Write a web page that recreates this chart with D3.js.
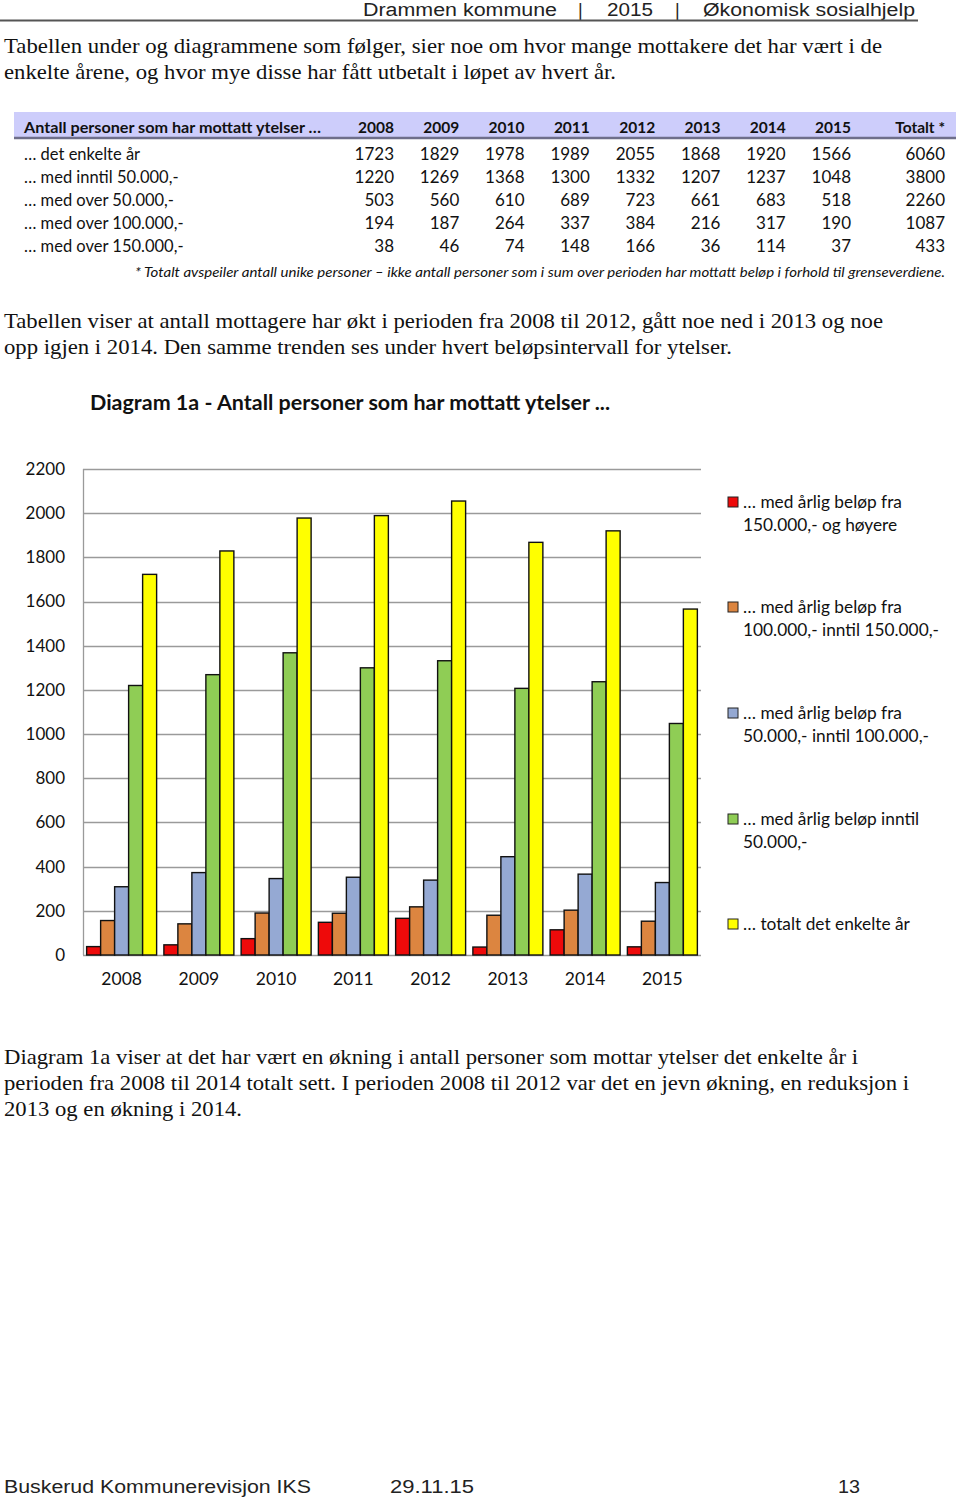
<!DOCTYPE html>
<html><head><meta charset="utf-8">
<script src="https://cdn.jsdelivr.net/npm/d3@7/dist/d3.min.js"></script>
<style>body{margin:0;background:#fff}svg{display:block}</style>
</head><body>
<script>
// ---- Data ----
const years = ["2008","2009","2010","2011","2012","2013","2014","2015"];
const tableHeader = "Antall personer som har mottatt ytelser …";
const rowLabels = ["… det enkelte år","… med inntil 50.000,-","… med over 50.000,-","… med over 100.000,-","… med over 150.000,-"];
const rowTotal    = [1723,1829,1978,1989,2055,1868,1920,1566];
const rowInntil50 = [1220,1269,1368,1300,1332,1207,1237,1048];
const rowOver50   = [503,560,610,689,723,661,683,518];
const rowOver100  = [194,187,264,337,384,216,317,190];
const rowOver150  = [38,46,74,148,166,36,114,37];
const rowTotals   = [6060,3800,2260,1087,433];

// chart series (bar heights)
const s150plus   = [38,46,74,148,166,36,114,37];
const s100to150  = [156,141,190,189,218,180,203,153];
const s50to100   = [309,373,346,352,339,445,366,328];
const sUnder50   = [1220,1269,1368,1300,1332,1207,1237,1048];
const sTotal     = [1723,1829,1978,1989,2055,1868,1920,1566];
const seriesNames = [
  ["… med årlig beløp fra","150.000,- og høyere"],
  ["… med årlig beløp fra","100.000,- inntil 150.000,-"],
  ["… med årlig beløp fra","50.000,- inntil 100.000,-"],
  ["… med årlig beløp inntil","50.000,-"],
  ["… totalt det enkelte år"]
];
const seriesColors = ["#ee0a0a","#dc8540","#95a9d3","#8fcd55","#ffff00"];
const yTicks = [0,200,400,600,800,1000,1200,1400,1600,1800,2000,2200];

const W=960,H=1497;
const svg = d3.select("body").append("svg").attr("width",W).attr("height",H);
svg.append("rect").attr("width",W).attr("height",H).attr("fill","#fff");

// ---- Header ----
const hdr = svg.append("g").attr("font-family","Liberation Sans, Arial").attr("font-size",18).attr("fill","#222");
[["Drammen kommune",363,194],["|",578,null],["2015",607,46],["|",675,null],["Økonomisk sosialhjelp",703,212]].forEach(([t,x,w])=>{
  const e=hdr.append("text").attr("x",x).attr("y",16).text(t);
  if(w) e.attr("textLength",w).attr("lengthAdjust","spacingAndGlyphs");
});
svg.append("line").attr("x1",0).attr("x2",918).attr("y1",20.5).attr("y2",20.5).attr("stroke","#555").attr("stroke-width",2);

function prose(lines, x, y0, dy){
  lines.forEach(([t,w],i)=>{
    const e=svg.append("text").attr("x",x).attr("y",y0+i*dy).attr("font-family","Liberation Serif, Times New Roman")
      .attr("font-size",21).attr("fill","#111").text(t);
    if(w) e.attr("textLength",w).attr("lengthAdjust","spacingAndGlyphs");
  });
}
prose([["Tabellen under og diagrammene som følger, sier noe om hvor mange mottakere det har vært i de",878],
       ["enkelte årene, og hvor mye disse har fått utbetalt i løpet av hvert år.",612]],4,53,26);

// ---- Table ----
const tg = svg.append("g").attr("font-family","Lato, Open Sans, sans-serif").attr("fill","#111");
tg.append("rect").attr("x",14).attr("y",112).attr("width",942).attr("height",26).attr("fill","#cdcdfb");
tg.append("line").attr("x1",14).attr("x2",956).attr("y1",138).attr("y2",138).attr("stroke","#6e6e8a").attr("stroke-width",2.5);
const colX = d3.scaleLinear().domain([0,7]).range([394,851]);
tg.append("text").attr("x",24).attr("y",133).attr("font-weight","bold").attr("font-size",15)
  .attr("textLength",297).attr("lengthAdjust","spacingAndGlyphs").text(tableHeader);
years.forEach((y,i)=>tg.append("text").attr("x",colX(i)).attr("y",133).attr("text-anchor","end")
  .attr("font-weight","bold").attr("font-size",15.5).text(y));
tg.append("text").attr("x",945).attr("y",133).attr("text-anchor","end").attr("font-weight","bold").attr("font-size",15.5).text("Totalt *");
const rows=[rowTotal,rowInntil50,rowOver50,rowOver100,rowOver150];
rows.forEach((r,ri)=>{
  const yy=160+ri*23.1;
  tg.append("text").attr("x",24).attr("y",yy).attr("font-size",16.5).text(rowLabels[ri]);
  r.forEach((v,i)=>tg.append("text").attr("x",colX(i)).attr("y",yy).attr("text-anchor","end").attr("font-size",17).text(v));
  tg.append("text").attr("x",945).attr("y",yy).attr("text-anchor","end").attr("font-size",17).text(rowTotals[ri]);
});
tg.append("text").attr("x",945).attr("y",277).attr("text-anchor","end").attr("font-style","italic").attr("font-size",13)
  .attr("textLength",810).attr("lengthAdjust","spacingAndGlyphs")
  .text("* Totalt avspeiler antall unike personer – ikke antall personer som i sum over perioden har mottatt beløp i forhold til grenseverdiene.");

prose([["Tabellen viser at antall mottagere har økt i perioden fra 2008 til 2012, gått noe ned i 2013 og noe",879],
       ["opp igjen i 2014. Den samme trenden ses under hvert beløpsintervall for ytelser.",728]],4,328,26);

svg.append("text").attr("x",90).attr("y",410).attr("font-family","Lato, Open Sans, sans-serif").attr("font-weight","bold")
  .attr("font-size",20).attr("fill","#111").attr("textLength",520).attr("lengthAdjust","spacingAndGlyphs")
  .text("Diagram 1a - Antall personer som har mottatt ytelser ...");

// ---- Chart ----
const y = d3.scaleLinear().domain([0,2200]).range([955,469]);
const x = d3.scaleBand().domain(years).range([83,701]).paddingInner(0.094).paddingOuter(0.047);
const series=[s150plus,s100to150,s50to100,sUnder50,sTotal];
const xi = d3.scaleBand().domain(d3.range(series.length)).range([0,x.bandwidth()]);
const cg = svg.append("g");
cg.selectAll("line.grid").data(yTicks.filter(t=>t>0)).join("line").attr("class","grid")
  .attr("x1",83).attr("x2",701).attr("y1",d=>Math.round(y(d))+0.5).attr("y2",d=>Math.round(y(d))+0.5)
  .attr("stroke","#9a9a9a").attr("stroke-width",1.3);
cg.append("line").attr("x1",83.5).attr("x2",83.5).attr("y1",469).attr("y2",955).attr("stroke","#9a9a9a").attr("stroke-width",1.3);
cg.append("line").attr("x1",83).attr("x2",701).attr("y1",955.5).attr("y2",955.5).attr("stroke","#9a9a9a").attr("stroke-width",1.3);
series.forEach((s,si)=>{
  cg.append("g").selectAll("rect").data(s).join("rect")
    .attr("x",(d,i)=>x(years[i])+xi(si)).attr("width",xi.bandwidth())
    .attr("y",d=>y(d)).attr("height",d=>y(0)-y(d))
    .attr("fill",seriesColors[si]).attr("stroke","#111").attr("stroke-width",1.4);
});
const yAxis = d3.axisLeft(y).tickValues(yTicks).tickFormat(d3.format("d")).tickSize(0).tickPadding(18);
const ya = svg.append("g").attr("transform","translate(83,0)").call(yAxis);
ya.select(".domain").remove();
ya.selectAll("text").attr("font-family","Lato, Open Sans, sans-serif").attr("font-size",17).attr("fill","#111");
const xAxis = d3.axisBottom(x).tickSize(0).tickPadding(18);
const xa = svg.append("g").attr("transform","translate(0,955)").call(xAxis);
xa.select(".domain").remove();
xa.selectAll("text").attr("font-family","Lato, Open Sans, sans-serif").attr("font-size",17.5).attr("fill","#111");

// Legend
const legY=[502,607,713,819,924];
const lg=svg.append("g").attr("font-family","Lato, Open Sans, sans-serif").attr("font-size",17.3).attr("fill","#111");
seriesNames.forEach((lines,i)=>{
  lg.append("rect").attr("x",728).attr("y",legY[i]-5).attr("width",10).attr("height",10)
    .attr("fill",seriesColors[i]).attr("stroke","#222").attr("stroke-width",1);
  lines.forEach((t,j)=>lg.append("text").attr("x",743).attr("y",legY[i]+6+j*23).text(t));
});

prose([["Diagram 1a viser at det har vært en økning i antall personer som mottar ytelser det enkelte år i",854],
       ["perioden fra 2008 til 2014 totalt sett. I perioden 2008 til 2012 var det en jevn økning, en reduksjon i",905],
       ["2013 og en økning i 2014.",238]],4,1064,26);

// Footer
const ft = svg.append("g").attr("font-family","Liberation Sans, Arial").attr("font-size",18).attr("fill","#222");
[["Buskerud Kommunerevisjon IKS",4,307],["29.11.15",390,84],["13",838,22]].forEach(([t,xx,w])=>{
  ft.append("text").attr("x",xx).attr("y",1493).attr("textLength",w).attr("lengthAdjust","spacingAndGlyphs").text(t);
});
</script>
</body></html>
